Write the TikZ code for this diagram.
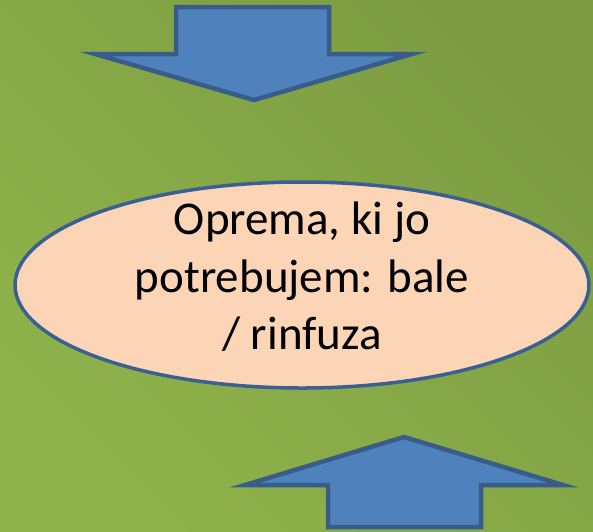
\documentclass[tikz,border=0pt]{standalone}
\usepackage{fontspec}
\setmainfont{Carlito}
\usetikzlibrary{shapes.geometric}
\definecolor{bgA}{HTML}{8FB34B}
\definecolor{bgB}{HTML}{7D9C42}
\definecolor{arrfill}{HTML}{4F81BD}
\definecolor{arrline}{HTML}{385D8A}
\definecolor{peach}{HTML}{FBD5B5}
\definecolor{ovalline}{HTML}{3A5F92}
\tikzset{
  blockarrow/.style={fill=arrfill, draw=arrline, line width=4.5pt, line join=miter},
  oval/.style={ellipse, fill=peach, draw=ovalline, line width=3.5pt,
    minimum width=574pt, minimum height=206pt, inner sep=0pt},
  ovaltext/.style={align=center, inner sep=0pt, font=\fontsize{47}{57.5}\selectfont}
}
\begin{document}
\begin{tikzpicture}[x=1pt,y=-1pt]
        \shade[shading=axis, left color=bgA, right color=bgB, shading angle=135] (0,0) rectangle (593,531);
        \useasboundingbox (0,0) rectangle (593,531);
        % arrow down
        \draw[blockarrow] (176,7) -- (329,7) -- (329,54) -- (412,54) -- (254,100) -- (95,54) -- (176,54) -- cycle;
        % arrow up
        \draw[blockarrow] (328,527) -- (481,527) -- (481,485) -- (563,485) -- (404,437) -- (245,485) -- (328,485) -- cycle;
        \node[oval] (oprema) at (302,285) {};
        \node[ovaltext] (opremaText) at ([yshift=8pt]oprema.center) {Oprema, ki jo\\potrebujem: bale\\/ rinfuza};
    \end{tikzpicture}
\end{document}
